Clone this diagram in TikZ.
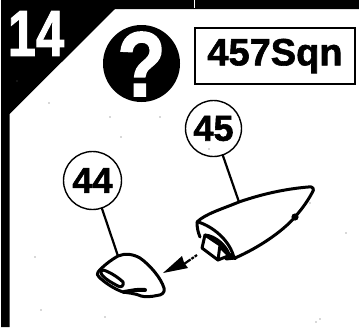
\documentclass[tikz,border=0pt]{standalone}
\usepackage{fontspec}
\setmainfont{Liberation Sans}[BoldFont={Liberation Sans Bold},BoldFeatures={FakeBold=1.6}]
\begin{document}
\begin{tikzpicture}[x=1pt,y=-1pt,
  callout/.style={circle,draw=black,line width=1.4pt,fill=white,minimum size=56pt,inner sep=0pt,font=\fontsize{36}{36}\selectfont\bfseries},
  leader/.style={line width=2.2pt,line cap=round},
  part/.style={line width=3pt,line join=round,line cap=round},
  heavy/.style={line width=4pt,line join=round,line cap=round},
  speck/.style={fill=black!65,draw=none}]
\useasboundingbox (0,0) rectangle (359,327);
\fill[white] (0,0) rectangle (359,327);
% black frame and corner
\fill[black] (1,0) -- (359,0) -- (359,9) -- (115,9) -- (9.5,114) -- (9.5,327) -- (1,327) -- cycle;
\fill[white] (194.2,0) rectangle (195,8);
\node[text=white,font=\fontsize{65}{65}\selectfont\bfseries,xscale=.78,inner sep=0pt] (num) at (36,33.5) {14};
% question badge
\fill[black] (141.5,63.5) circle[radius=38.5];
\node[text=white,font=\fontsize{92}{92}\selectfont\bfseries,xscale=.86,inner sep=0pt] (q) at (141.5,64) {?};
% title box
\node[draw=black,line width=1.6pt,minimum width=160pt,minimum height=56pt,inner sep=0pt,font=\fontsize{38}{38}\selectfont\bfseries] (title) at (275,56) {457Sqn};
% callouts
\node[callout] (c45) at (213.5,128.5) {45};
\node[callout,minimum size=58pt] (c44) at (92.5,180.5) {44};
\coordinate (a45) at (239,202);
\coordinate (a44) at (118,256);
\draw[leader] (c45) -- (a45);
\draw[leader] (c44) -- (a44);
% large part
\draw[part] (197,222) .. controls (205,214) and (222,209) .. (a45) .. controls (262,194) and (285,189) .. (308,187) .. controls (313,186) and (315,189) .. (312,193) .. controls (306,204) and (300,211) .. (295,217) .. controls (282,232) and (258,248) .. (235,258) -- (226,259);
\draw[part] (197,222) .. controls (197,228) and (198,232) .. (200,237);
\draw[part] (198,222) .. controls (212,226) and (230,240) .. (234,258);
\draw[part] (205,235) -- (202,248) -- (218,260) -- (228,256);
\draw[part] (205,235) -- (220,245) -- (218,260);
\draw[part] (205,235) .. controls (216,236) and (226,246) .. (229,254);
\draw[heavy] (221,247) -- (228,254) -- (235,258);
\fill[black] (295,217) circle[radius=3.6];
% small part
\draw[part] (98,272) .. controls (103,266) and (111,260) .. (a44) .. controls (125,253) and (133,254) .. (140,258) .. controls (150,265) and (161,278) .. (164,288) .. controls (165,293) and (162,295) .. (157,295.5) .. controls (150,297) and (145,297) .. (141,296) .. controls (134,293) and (128,293) .. (123,292) .. controls (114,289) and (104,282) .. (99,277) .. controls (97,275) and (97,274) .. (98,272);
\draw[part] (103,270) .. controls (108,271) and (118,277) .. (123,282) .. controls (124,286) and (121,288) .. (118,286) .. controls (112,283) and (105,279) .. (102,275) .. controls (100,272) and (101,270) .. (103,270);
\draw[heavy] (124,292) .. controls (131,291) and (138,289) .. (145,290);
% arrow
\coordinate (tip) at (163,273);
\coordinate (tail) at (197,255);
\fill[black] (tip) -- (182,256) -- (184,262.5) -- (188,268) -- cycle;
\draw[line width=2.2pt,dash pattern=on 8pt off 1pt on 3pt off 1pt] (184,264) -- (tail);
% print specks
\foreach \p in {(110,117),(160,117),(121,137),(209,149),(310,203),(346,233),(49,103),(17,81),(35,257),(41,310),(320,319),(316,322),(105,317)}
  \fill[speck] \p circle[radius=.6];
\end{tikzpicture}
\end{document}
